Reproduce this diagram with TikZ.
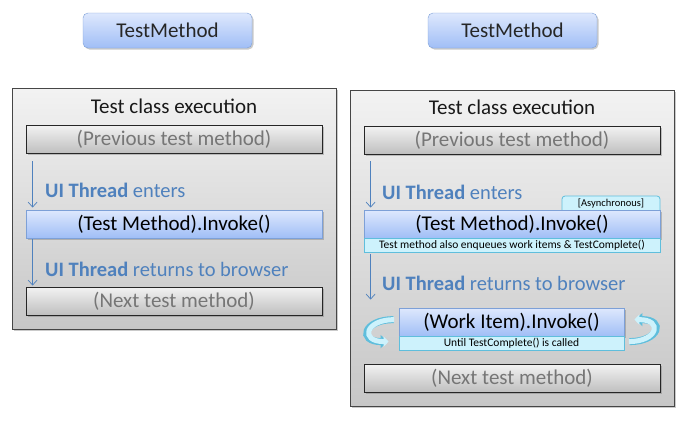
\documentclass[tikz,border=0pt]{standalone}
\usepackage{fontspec}
\setmainfont{Carlito}
\usetikzlibrary{shadows,calc,arrows.meta}
\definecolor{uiblue}{RGB}{79,129,189}
\definecolor{panelborder}{RGB}{70,70,70}
\definecolor{blueborder}{RGB}{125,160,215}
\definecolor{bluetop}{RGB}{222,232,253}
\definecolor{bluebot}{RGB}{160,190,246}
\definecolor{cyanborder}{RGB}{95,190,220}
\definecolor{cyanfill}{RGB}{205,242,252}
\definecolor{graytext}{RGB}{118,118,118}
\begin{document}
\begin{tikzpicture}[x=1pt,y=-1pt,
  shadowed/.style={drop shadow={shadow xshift=1.5pt,shadow yshift=-1.5pt,opacity=0.35,fill=black!60}},
  headbox/.style={draw=blueborder,rounded corners=5pt,top color=bluetop,bottom color=bluebot,
     minimum width=169pt,minimum height=35pt,shadowed,font=\fontsize{21}{24}\selectfont,text=black!85},
  panel/.style={draw=panelborder,line width=0.8pt,top color=black!5,bottom color=black!22,
     minimum width=324pt,shadowed},
  paneltitle/.style={font=\fontsize{21}{24}\selectfont,text=black!90},
  graybox/.style={draw=black!85,line width=0.8pt,top color=black!5,bottom color=black!25,
     minimum width=296pt,minimum height=28pt,shadowed,font=\fontsize{21}{24}\selectfont,text=graytext},
  bluebox/.style={draw=blueborder,line width=0.8pt,top color=bluetop,bottom color=bluebot,
     minimum width=296pt,minimum height=28pt,shadowed,font=\fontsize{21}{24}\selectfont,text=black},
  substrip/.style={draw=cyanborder,line width=0.8pt,fill=cyanfill,minimum height=14pt,inner sep=0pt,
     font=\fontsize{11.5}{12}\selectfont,text=black},
  threadlabel/.style={anchor=west,inner sep=0pt,font=\fontsize{20.5}{24}\selectfont,text=uiblue},
  thread/.style={draw=uiblue,line width=0.7pt,-{Straight Barb[length=5pt,width=9pt]}},
  loopout/.style={draw=cyanborder,line width=7pt,-{Triangle[length=7pt,width=13pt]}},
  loopin/.style={draw=cyanfill,line width=5pt,-{Triangle[length=5pt,width=10pt]}}
]
\useasboundingbox (0,0) rectangle (685,421);

% ---------------- left ----------------
\node[headbox] (lhead) at (167.5,30.5) {TestMethod};
\node[panel,minimum height=241pt] (lpanel) at (174,208.5) {};
\node[paneltitle] (ltitle) at (174,106) {Test class execution};
\node[graybox] (lprev) at (174,139) {(Previous test method)};
\node[bluebox] (linv) at (174,224) {(Test Method).Invoke()};
\node[graybox] (lnext) at (174,301) {(Next test method)};
\node[threadlabel] (llab1) at (45,190) {\textbf{UI Thread} enters};
\node[threadlabel] (llab2) at (45,269) {\textbf{UI Thread} returns to browser};
\draw[thread] ($(lprev.south west)+(7,8)$) -- ($(linv.north west)+(7,-2)$);
\draw[thread] ($(linv.south west)+(7,1)$) -- ($(lnext.north west)+(7,-1)$);

% ---------------- right ----------------
\node[headbox] (rhead) at (512.5,30.5) {TestMethod};
\node[panel,minimum height=316pt] (rpanel) at (512,248) {};
\node[paneltitle] (rtitle) at (512,107) {Test class execution};
\node[graybox] (rprev) at (512,140) {(Previous test method)};
\path[draw=cyanborder,line width=0.8pt,fill=cyanfill,rounded corners=3pt]
  (562,211) -- (562,196) -- (660,196) -- (660,211);
\node[inner sep=0pt,font=\fontsize{10.5}{11}\selectfont] (rasync) at (611,203.5) {[Asynchronous]};
\node[bluebox] (rinv) at (512,224) {(Test Method).Invoke()};
\node[substrip,minimum width=296pt] (rinvsub) at (512,245) {Test method also enqueues work items \& TestComplete()};
\node[bluebox,minimum width=225pt] (rwork) at (511.5,322) {(Work Item).Invoke()};
\node[substrip,minimum width=225pt] (rworksub) at (511.5,343) {Until TestComplete() is called};
\node[graybox] (rnext) at (512,378) {(Next test method)};
\node[threadlabel] (rlab1) at (382,192) {\textbf{UI Thread} enters};
\node[threadlabel] (rlab2) at (382,283) {\textbf{UI Thread} returns to browser};
\draw[thread] ($(rprev.south west)+(7,7)$) -- ($(rinv.north west)+(7,-2)$);
\draw[thread] ($(rinvsub.south west)+(7,2)$) -- ($(rnext.north west)+(7,-64)$);

% loop arrows
\coordinate (la) at ($(rwork.north west)+(-5,12)$);
\draw[loopout] (la) .. controls +(-30,0) and +(-30,0) .. ($(la)+(-6,22)$);
\draw[loopin] ($(la)+(0.5,0)$) .. controls +(-29,0) and +(-29,0) .. ($(la)+(-5,22)$);
\coordinate (ra) at ($(rwork.north east)+(5,34)$);
\draw[loopout] (ra) .. controls +(30,0) and +(30,0) .. ($(ra)+(6,-22)$);
\draw[loopin] ($(ra)+(-0.5,0)$) .. controls +(29,0) and +(29,0) .. ($(ra)+(5,-22)$);
\end{tikzpicture}
\end{document}
